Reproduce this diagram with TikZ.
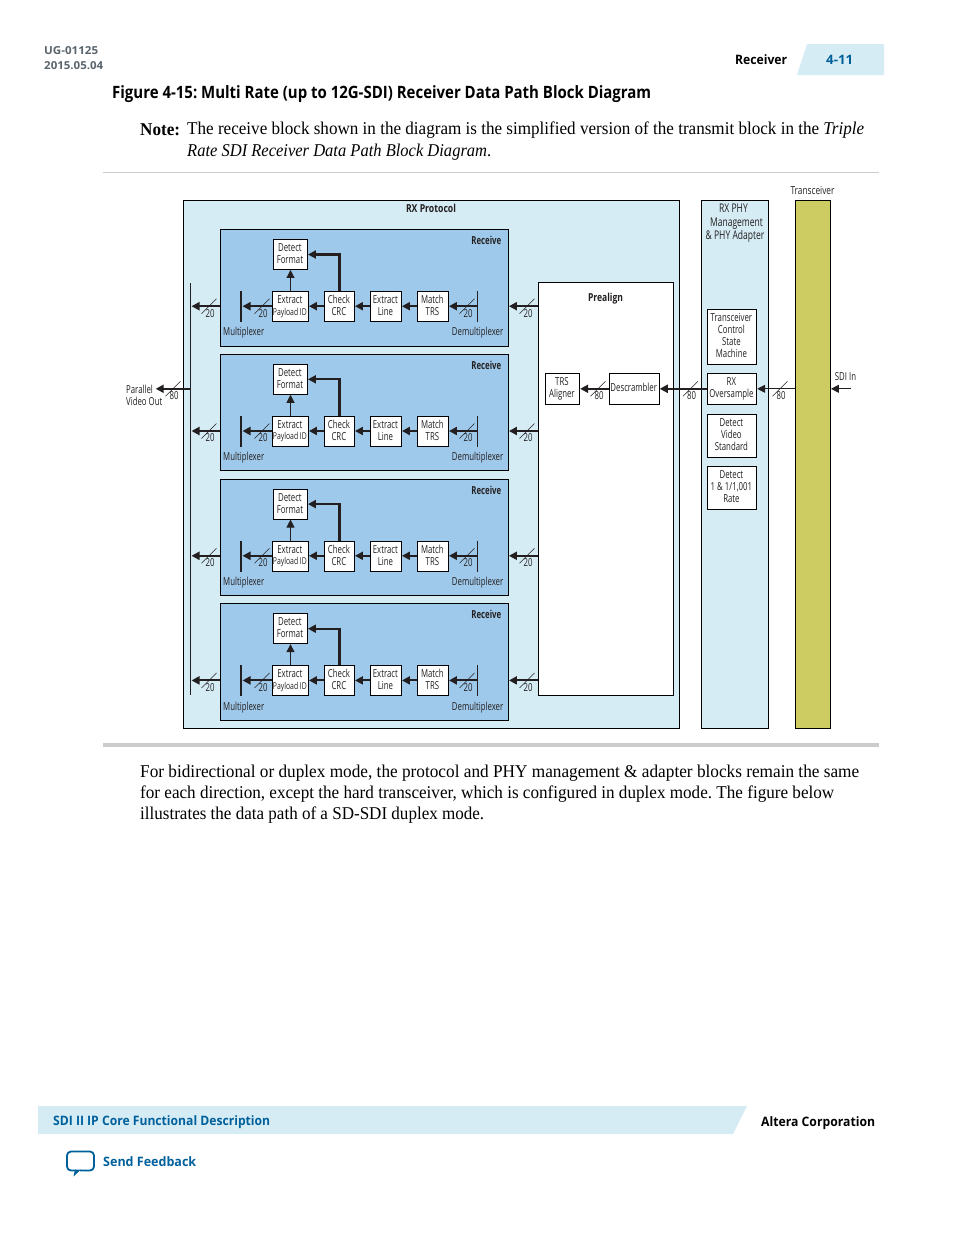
\documentclass[tikz,border=0pt]{standalone}
\usepackage{fontspec}
\usepackage{graphicx}
\usetikzlibrary{arrows.meta,calc}
\setmainfont{Liberation Serif}
\newfontfamily\hdr{Open Sans}
\newfontfamily\cond[FakeStretch=0.71]{Open Sans}
\frenchspacing
\definecolor{pale}{HTML}{D5ECF5}
\definecolor{rcv}{HTML}{9FC9EA}
\definecolor{olive}{HTML}{CDCC63}
\definecolor{ablue}{HTML}{00609C}
\definecolor{ink}{HTML}{231F20}
\definecolor{greyt}{HTML}{5A646C}
\newsavebox\fitbox
\newcommand\fitw[2]{\sbox\fitbox{#2}\pgfmathsetmacro\fitf{#1/\wd\fitbox}\scalebox{\fitf}[1]{\usebox\fitbox}}
% \bx[style]{name}{x1}{y1}{x2}{y2}{text}
\newcommand\bx[7][]{\pgfmathsetmacro\cxx{(#3+#5)/2}\pgfmathsetmacro\cyy{-(#4+#6)/2}\pgfmathsetmacro\wxx{#5-#3}\pgfmathsetmacro\hxx{#6-#4}%
  \node[blk,minimum width=\wxx pt,minimum height=\hxx pt,#1] (#2) at (\cxx,\cyy) {\raisebox{-0.5pt}[\height][\depth]{\begin{tabular}{@{}c@{}}#7\end{tabular}}\hspace*{1.2pt}};}
\newcommand\mk[4]{\draw[slash] (#2-7.5,-#3-7.5) -- (#2+7.5,-#3+7.5);\node[lab] (#1) at (#2+1,-#3-7) {#4};}
\tikzset{
 blk/.style={draw=black,line width=0.9pt,fill=white,inner sep=0pt,align=center,text=ink,font=\cond\fontsize{11}{12}\selectfont},
 lab/.style={inner sep=0pt,text=ink,align=center,font=\cond\fontsize{11}{12}\selectfont},
 blab/.style={lab,font=\cond\bfseries\fontsize{11}{12}\selectfont},
 page/.style={inner sep=0pt,anchor=west,text=black,font=\fontsize{18}{20}\selectfont},
 hd/.style={inner sep=0pt,anchor=west,font=\hdr\bfseries\fontsize{13}{15}\selectfont},
 slash/.style={draw=ink,line width=0.5pt},
 thk/.style={draw=ink,line width=2.1pt,-{Triangle[length=8pt,width=8pt]}},
 thn/.style={draw=ink,line width=1pt,-{Triangle[length=8pt,width=8pt]}},
}
\begin{document}
\begin{tikzpicture}[x=1pt,y=1pt]
\useasboundingbox (0,0) rectangle (954,-1235);
% page furniture
\node[hd,text=greyt,font=\hdr\bfseries\fontsize{11}{13}\selectfont] (ug) at (44,-51) {\fitw{54}{UG-01125}};
\node[hd,text=greyt,font=\hdr\bfseries\fontsize{11}{13}\selectfont] (dt) at (44,-66) {\fitw{59}{2015.05.04}};
\node[hd] (rv) at (735,-60) {\fitw{52}{Receiver}};
\fill[pale] (797,-75) -- (807,-44) -- (884,-44) -- (884,-75) -- cycle;
\node[hd,text=ablue] (pg) at (826,-60) {\fitw{27}{4-11}};
\node[hd,font=\hdr\bfseries\fontsize{17}{20}\selectfont] (ttl) at (112,-94) {\fitw{539}{Figure 4-15: Multi Rate (up to 12G-SDI) Receiver Data Path Block Diagram}};
\node[page,font=\bfseries\fontsize{18}{20}\selectfont] (nt) at (140,-130) {\fitw{40}{Note:}};
\node[page] (n1) at (187,-130) {\fitw{677}{The receive block shown in the diagram is the simplified version of the transmit block in the \textit{Triple}}};
\node[page] (n2) at (187,-152) {\fitw{304}{\textit{Rate SDI Receiver Data Path Block Diagram}.}};
\draw[black!20,line width=0.8pt] (103,-172.5) -- (879,-172.5);
\draw[black!20,line width=4pt] (103,-745) -- (879,-745);
\node[page] (b1) at (140,-773) {\fitw{719}{For bidirectional or duplex mode, the protocol and PHY management \& adapter blocks remain the same}};
\node[page] (b2) at (140,-794) {\fitw{694}{for each direction, except the hard transceiver, which is configured in duplex mode. The figure below}};
\node[page] (b3) at (140,-815) {\fitw{344}{illustrates the data path of a SD-SDI duplex mode.}};
\fill[pale] (38,-1106) -- (747,-1106) -- (733,-1134) -- (38,-1134) -- cycle;
\node[hd,text=ablue] (ft) at (53,-1122) {\fitw{217}{SDI II IP Core Functional Description}};
\node[hd] (ac) at (761,-1123) {\fitw{114}{Altera Corporation}};
\node[hd,text=ablue] (sf) at (103,-1162) {\fitw{93}{Send Feedback}};
\draw[ablue,line width=1.8pt,rounded corners=4pt,line join=round] (76,-1170.5) -- (67,-1170.5) -- (67,-1151.5) -- (94,-1151.5) -- (94,-1170.5) -- (80,-1170.5);
\fill[ablue] (75,-1169.5) -- (81,-1169.5) -- (73.5,-1176.5) -- cycle;
% main containers
\bx[fill=pale]{rxp}{183.5}{200.5}{679.5}{728.5}{}
\bx[fill=pale]{phy}{701.5}{200.5}{768.5}{728.5}{}
\bx[fill=olive]{trx}{795.5}{200.5}{830.5}{728.5}{}
\node[blab] (rxpt) at (431,-208.5) {\fitw{50}{RX Protocol}};
\node[lab,font=\cond\fontsize{12}{13.5}\selectfont] (phyt) at (735,-223.5) {RX PHY\hspace*{3pt}\\\hspace*{3pt}Management\\\& PHY Adapter};
\node[lab] (trxt) at (812.5,-190.5) {\fitw{44}{Transceiver}};
\bx{pre}{538.5}{282.5}{673.5}{695.5}{}
\node[blab] (pret) at (605.5,-298.5) {\fitw{35}{Prealign}};
\coordinate (bustop) at (190.3,-283);
\coordinate (busbot) at (190.3,-695);
\draw[ink,line width=1pt] (bustop) -- (busbot);
\foreach \i/\dy in {1/0,2/124.8,3/249.6,4/374.2}{
 \begin{scope}[yshift=-\dy pt]
  \bx[fill=rcv]{rc\i}{220.5}{229.5}{508.5}{346}{}
  \node[blab,anchor=east] (rl\i) at (501.5,-240.5) {Receive};
  \node[lab,anchor=west] (ml\i) at (223,-333) {Multiplexer};
  \node[lab,anchor=east] (dl\i) at (503.5,-333) {Demultiplexer};
  \bx{df\i}{273.5}{239.5}{307.5}{269.5}{Detect\\Format}
  \bx{ex\i}{272.5}{291.5}{308.5}{321.5}{Extract\\[-0.5pt]\fitw{34}{\fontsize{9.5}{10}\selectfont Payload ID}}
  \bx{cc\i}{324.5}{291.5}{354.5}{321.5}{Check\\CRC}
  \bx{el\i}{370.5}{291.5}{401.5}{321.5}{Extract\\Line}
  \bx{mt\i}{417.5}{291.5}{448.5}{321.5}{Match\\TRS}
  \coordinate (muxt\i) at (240.7,-291);
  \coordinate (muxb\i) at (240.7,-322);
  \coordinate (mux\i) at (242.5,-306.2);
  \coordinate (demt\i) at (477.7,-291);
  \coordinate (demb\i) at (477.7,-322);
  \coordinate (dem\i) at (477.7,-306.2);
  \coordinate (bus\i) at (191.5,-306.2);
  \draw[ink,line width=2.1pt] (muxt\i) -- (muxb\i);
  \draw[ink,line width=1pt] (demt\i) -- (demb\i);
  \draw[thk] (dem\i) -- (mt\i.east |- dem\i);
  \draw[thk] (mt\i.west |- dem\i) -- (el\i.east |- dem\i);
  \draw[thk] (el\i.west |- dem\i) -- (cc\i.east |- dem\i);
  \draw[thk] (cc\i.west |- dem\i) -- (ex\i.east |- dem\i);
  \draw[thk] (ex\i.west |- dem\i) -- (mux\i);
  \draw[thk] (rc\i.west |- mux\i) -- (bus\i);
  \draw[thk] (pre.west |- dem\i) -- (rc\i.east |- dem\i);
  \draw[thn] (ex\i.north) -- (df\i.south);
  \draw[thk] (cc\i.north) |- (df\i.east);
  \mk{ma\i}{209}{306.2}{20}
  \mk{mb\i}{262}{306.2}{20}
  \mk{mc\i}{467}{306.2}{20}
  \mk{md\i}{527}{306.2}{20}
 \end{scope}
}
% Prealign contents
\bx{trs}{545.3}{373.3}{579.7}{404.3}{TRS\\Aligner}
\bx{des}{609.3}{373.3}{659.3}{404.3}{Descrambler}
% PHY contents
\bx{tcs}{707.3}{309.3}{756.7}{364.3}{Transceiver\\Control\\State\\Machine}
\bx{ovs}{707.3}{373.3}{756.7}{404.3}{RX\\Oversample}
\bx{dvs}{707.3}{414.3}{756.7}{457.3}{Detect\\Video\\Standard}
\bx{drt}{707.3}{466.3}{756.7}{509.3}{Detect\\1 \& 1/1,001\\Rate}
% top-level path
\coordinate (sdiin) at (851,-388.8);
\coordinate (pvoe) at (190.3,-388.8);
\coordinate (pvo) at (155.7,-388.8);
\draw[thn] (sdiin) -- (trx.east |- sdiin);
\draw[thn] (trx.west |- ovs.east) -- (ovs.east);
\draw[thk] (ovs.west) -- (des.east);
\draw[thk] (des.west) -- (trs.east);
\draw[thk] (pvoe) -- (pvo);
\mk{m80a}{780}{388.8}{80}
\mk{m80b}{690.5}{388.8}{80}
\mk{m80c}{598}{388.8}{80}
\mk{m80d}{173}{388.8}{80}
\node[lab] (sdit) at (845.5,-376.5) {SDI In};
\node[lab,anchor=west,align=left] (pvot) at (126,-395.5) {Parallel\\Video Out};
\end{tikzpicture}
\end{document}
